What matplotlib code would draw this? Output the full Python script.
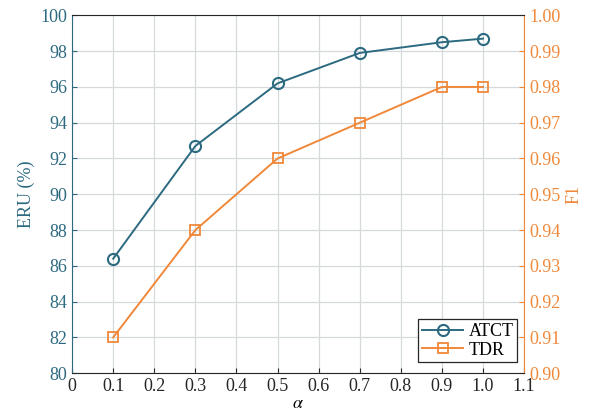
import matplotlib
matplotlib.use("Agg")
import matplotlib.pyplot as plt

plt.rcParams["font.family"] = ["Liberation Serif", "DejaVu Serif"]
plt.rcParams["mathtext.fontset"] = "stix"

alpha = [0.1, 0.3, 0.5, 0.7, 0.9, 1.0]
eru_atct = [86.4, 92.7, 96.2, 97.9, 98.5, 98.7]
f1_tdr = [0.91, 0.94, 0.96, 0.97, 0.98, 0.98]

x_ticks = [0, 0.1, 0.2, 0.3, 0.4, 0.5, 0.6, 0.7, 0.8, 0.9, 1.0, 1.1]
x_labels = ["0", "0.1", "0.2", "0.3", "0.4", "0.5", "0.6", "0.7", "0.8", "0.9", "1.0", "1.1"]
left_ticks = [80, 82, 84, 86, 88, 90, 92, 94, 96, 98, 100]
right_ticks = [0.90, 0.91, 0.92, 0.93, 0.94, 0.95, 0.96, 0.97, 0.98, 0.99, 1.00]

teal = "#2c6a80"
orange = "#f0883a"

fig, ax1 = plt.subplots(figsize=(6.01, 4.16), dpi=100)
fig.subplots_adjust(left=0.12, right=0.872, top=0.963, bottom=0.103)

ax1.grid(True, color="#d5d9dc", linewidth=0.9)
ax1.set_axisbelow(True)

linie1 = ax1.plot(alpha, eru_atct, marker="o", color=teal, linewidth=1.4,
                  markersize=8, markerfacecolor="none", markeredgewidth=1.5,
                  label="ATCT")
ax1.set_xlim(0, 1.1)
ax1.set_ylim(80, 100)
ax1.set_xticks(x_ticks)
ax1.set_xticklabels(x_labels)
ax1.set_yticks(left_ticks)
ax1.set_xlabel(r"$\alpha$", fontsize=13, labelpad=0)
ax1.set_ylabel("ERU (%)", color=teal, fontsize=13)
ax1.tick_params(axis="y", labelcolor=teal, color=teal, direction="in", labelsize=13)
ax1.tick_params(axis="x", direction="in", labelsize=13, colors="#262626")

ax2 = ax1.twinx()
linie2 = ax2.plot(alpha, f1_tdr, marker="s", color=orange, linewidth=1.4,
                  markersize=7, markerfacecolor="none", markeredgewidth=1.3,
                  label="TDR")
ax2.set_ylim(0.90, 1.00)
ax2.set_yticks(right_ticks)
ax2.set_yticklabels([f"{v:.2f}" for v in right_ticks])
ax2.set_ylabel("F1", color=orange, fontsize=13)
ax2.tick_params(axis="y", labelcolor=orange, color=orange, direction="in", labelsize=13)

ax2.spines["left"].set_color(teal)
ax2.spines["right"].set_color(orange)
ax2.spines["top"].set_color("#262626")
ax2.spines["bottom"].set_color("#262626")
for s in ax1.spines.values():
    s.set_visible(False)

linien = linie1 + linie2
labels = [linie.get_label() for linie in linien]
leg = ax2.legend(linien, labels, loc="lower right", fontsize=13, fancybox=False,
                 framealpha=1, edgecolor="#262626", borderpad=0.2,
                 handlelength=2.3, labelspacing=0.1, handletextpad=0.3,
                 borderaxespad=0, bbox_to_anchor=(0.985, 0.03))
leg.get_frame().set_linewidth(0.9)

plt.savefig("out.png", dpi=100)
